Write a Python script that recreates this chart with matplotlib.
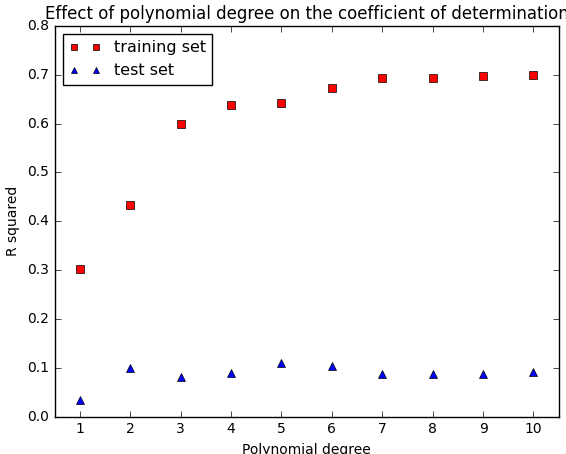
import matplotlib
matplotlib.use("Agg")
import matplotlib.pyplot as plt

plt.style.use("classic")
plt.rcParams["font.size"] = 10

degrees = [1, 2, 3, 4, 5, 6, 7, 8, 9, 10]
train_r2 = [0.302, 0.434, 0.599, 0.639, 0.643, 0.673, 0.694, 0.694, 0.697, 0.700]
test_r2 = [0.034, 0.100, 0.082, 0.089, 0.111, 0.103, 0.087, 0.087, 0.087, 0.091]

fig = plt.figure(figsize=(5.66, 4.54), dpi=100, facecolor="white")
ax = fig.add_axes([0.0966, 0.082, 0.8905, 0.861])
ax.plot(degrees, train_r2, "rs", label="training set")
ax.plot(degrees, test_r2, "b^", label="test set")
ax.set_xlim(0.5, 10.5)
ax.set_ylim(0.0, 0.8)
ax.set_xticks(degrees)
ax.tick_params(labelsize=10)
ax.set_xlabel("Polynomial degree", fontsize=10)
ax.set_ylabel("R squared", fontsize=10)
ax.set_title("Effect of polynomial degree on the coefficient of determination", fontsize=12)
ax.legend(loc="upper left", fontsize=11.5, markerscale=0.75)
fig.savefig("out.png", dpi=100, facecolor="white")
